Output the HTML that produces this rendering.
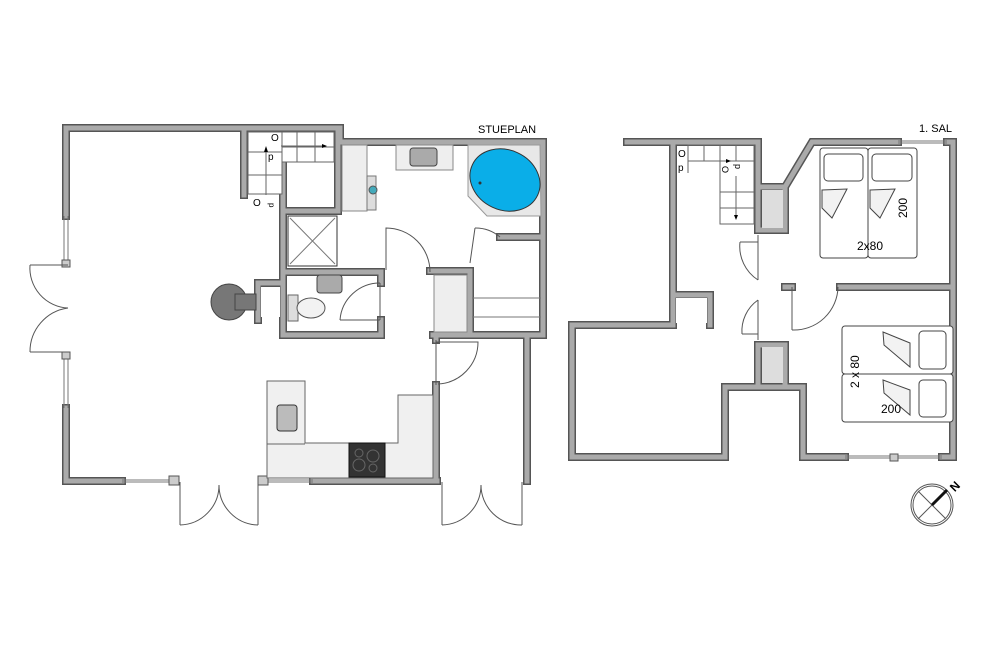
<!DOCTYPE html>
<html><head><meta charset="utf-8"><style>
html,body{margin:0;padding:0;background:#fff;}
svg{display:block;}
text{font-family:"Liberation Sans",sans-serif;}
</style></head><body>
<svg width="1000" height="667" viewBox="0 0 1000 667" xmlns="http://www.w3.org/2000/svg">
<defs>
<path id="w" d="M66,216 V128 H340 V142 H543 V335 H433
M66,408 V481 H122 M313,481 H437 M527,481 V335
M436,481 V385 M436,340 V335
M244,195 V128
M283,163 V335 H381 V320 M381,283 V272 H285 M283,211 H338 V128
M430,271 H470 V333 M500,237 H543
M258,320 V283 H283
M627,142 H758 V230 M758,187 H785 L812,142 H898 M947,142 H953 V457 H942
M845,457 H803 V387 H725 V457 H572 V325 H673 V142
M673,295 H710 V325
M840,287 H953 M785,287 H792 M785,187 V230 H758
M758,385 V345 H785 V385"/>
</defs>
<use href="#w" fill="none" stroke="#555" stroke-width="8" stroke-linecap="square"/>
<use href="#w" fill="none" stroke="#aaa" stroke-width="5" stroke-linecap="square"/>

<!-- windows -->
<g stroke="#777" stroke-width="1" fill="none">
<line x1="64" y1="216" x2="64" y2="265"/><line x1="68" y1="216" x2="68" y2="265"/>
<line x1="64" y1="355" x2="64" y2="408"/><line x1="68" y1="355" x2="68" y2="408"/>
<line x1="122" y1="480" x2="170" y2="480"/><line x1="122" y1="482" x2="170" y2="482"/>
<line x1="268" y1="480" x2="313" y2="480"/><line x1="268" y1="482" x2="313" y2="482"/>
<line x1="898" y1="141" x2="947" y2="141"/><line x1="898" y1="143" x2="947" y2="143"/>
<line x1="845" y1="456" x2="942" y2="456"/><line x1="845" y1="458" x2="942" y2="458"/>
</g>
<g fill="#ccc" stroke="#555" stroke-width="1">
<rect x="169" y="476" width="10" height="9"/><rect x="258" y="476" width="10" height="9"/>
<rect x="62" y="260" width="8" height="7"/><rect x="62" y="352" width="8" height="7"/>
<rect x="890" y="454" width="8" height="7"/>
</g>

<!-- doors -->
<g stroke="#555" stroke-width="1" fill="none">
<path d="M68,265 L30,265 M30,265 A40,40 0 0 0 68,308"/><path d="M68,352 L30,352 M30,352 A44,44 0 0 1 68,308"/>
<path d="M180,482 V525 M180,525 A40,40 0 0 0 219,485"/><path d="M258,482 V525 M258,525 A40,40 0 0 1 219,485"/>
<path d="M442,482 V525 M442,525 A40,40 0 0 0 481,485"/><path d="M522,482 V525 M522,525 A40,40 0 0 1 481,485"/>
<path d="M436,340 V385 M436,342 H478 A42,42 0 0 1 438,384"/>
<path d="M386,270 V228 A44,44 0 0 1 430,272"/>
<path d="M380,283 V320 M340,320 H380 M340,320 A40,40 0 0 1 380,283"/>
<path d="M470,263 L475,228 M475,228 A38,38 0 0 1 500,237"/>
<path d="M758,235 V280 M740,242 H758 M740,242 A40,40 0 0 0 758,280"/>
<path d="M758,300 V340 M742,334 H758 M742,334 A38,38 0 0 1 758,300"/>
<path d="M792,287 V330 M792,330 A44,44 0 0 0 838,287"/>
</g>

<!-- stairs ground -->
<g stroke="#666" stroke-width="1" fill="none">
<rect x="248" y="132" width="34" height="62" fill="#fff"/>
<line x1="248" y1="152" x2="282" y2="152"/><line x1="248" y1="175" x2="282" y2="175"/>
<rect x="282" y="132" width="52" height="30" fill="#fff"/>
<line x1="282" y1="147" x2="334" y2="147"/>
<line x1="297" y1="132" x2="297" y2="162"/><line x1="315" y1="132" x2="315" y2="162"/>
<line x1="266" y1="195" x2="266" y2="152"/><line x1="281" y1="146" x2="322" y2="146"/>
</g>
<path d="M264,152 L268,152 L266,146 Z M322,144 V148 L327,146 Z" fill="#000"/>
<text x="268" y="160" font-size="10">p</text><text x="271" y="141" font-size="10">O</text>
<text x="253" y="206" font-size="10">O</text><text x="271" y="205" font-size="8" transform="rotate(90 271 203)">p</text>

<!-- bath -->
<rect x="342" y="145" width="25" height="66" fill="#eee" stroke="#888"/>
<rect x="367" y="176" width="9" height="34" fill="#ddd" stroke="#777"/>
<circle cx="373" cy="190" r="4" fill="#4ab" stroke="#555"/>
<rect x="396" y="145" width="57" height="25" fill="#eee" stroke="#888"/>
<rect x="410" y="148" width="27" height="18" rx="3" fill="#aaa" stroke="#444"/>
<polygon points="468,145 540,145 541,216 487,216 468,196" fill="#e8e8e8" stroke="#999"/>
<ellipse cx="505" cy="180" rx="36" ry="30" transform="rotate(25 505 180)" fill="#0aaee8" stroke="#333"/>
<circle cx="480" cy="183" r="1.5" fill="#333"/>
<rect x="288" y="216" width="49" height="50" fill="#fff" stroke="#333"/>
<path d="M290,218 L335,264 M335,218 L290,264" stroke="#777"/>
<rect x="317" y="275" width="25" height="18" rx="3" fill="#aaa" stroke="#444"/>
<rect x="288" y="295" width="10" height="26" fill="#ddd" stroke="#666"/>
<ellipse cx="311" cy="308" rx="14" ry="10" fill="#f2f2f2" stroke="#555"/>

<!-- chimney -->
<circle cx="229" cy="302" r="18" fill="#777" stroke="#444"/>
<rect x="235" y="294" width="21" height="16" fill="#777" stroke="#444"/>
<rect x="261" y="287" width="19" height="30" fill="#fff"/>

<!-- right stairs area ground -->
<rect x="434" y="275" width="33" height="57" fill="#eee" stroke="#888"/>
<g stroke="#777"><line x1="472" y1="298" x2="541" y2="298"/><line x1="472" y1="317" x2="541" y2="317"/></g>

<!-- kitchen -->
<path d="M267,381 H305 V443 H398 V395 H433 V478 H267 Z" fill="#f0f0f0" stroke="#666"/>
<line x1="267" y1="444" x2="305" y2="444" stroke="#666"/>
<rect x="277" y="405" width="20" height="26" rx="3" fill="#bbb" stroke="#333"/>
<rect x="349" y="443" width="36" height="34" fill="#333" stroke="#111"/>
<g fill="none" stroke="#666"><circle cx="359" cy="453" r="4"/><circle cx="373" cy="456" r="6"/><circle cx="359" cy="465" r="6"/><circle cx="373" cy="468" r="4"/></g>

<!-- upper stairs -->
<g stroke="#666" stroke-width="1" fill="none">
<rect x="688" y="145" width="66" height="16"/>
<line x1="704" y1="145" x2="704" y2="161"/><line x1="720" y1="145" x2="720" y2="161"/><line x1="736" y1="145" x2="736" y2="161"/>
<rect x="720" y="161" width="34" height="63"/>
<line x1="720" y1="192" x2="754" y2="192"/><line x1="720" y1="208" x2="754" y2="208"/>
<line x1="688" y1="161" x2="726" y2="161"/><line x1="688" y1="161" x2="688" y2="173"/>
<line x1="736" y1="176" x2="736" y2="215"/>
</g>
<path d="M726,159 V163 L731,161 Z M734,215 H738 L736,220 Z" fill="#000"/>
<text x="678" y="157" font-size="10">O</text><text x="678" y="171" font-size="10">p</text>
<text x="732" y="176" font-size="9" transform="rotate(90 732 166)">O</text>
<text x="742" y="175" font-size="9" transform="rotate(90 744 166)">p</text>
<rect x="762" y="190" width="21" height="38" fill="#ddd"/>
<rect x="762" y="347" width="21" height="36" fill="#ddd"/>
<rect x="676" y="298" width="31" height="25" fill="#fff"/>

<!-- beds top -->
<g stroke="#444" fill="#fff">
<rect x="820" y="148" width="48" height="110" rx="3"/><rect x="868" y="148" width="49" height="110" rx="3"/>
<rect x="824" y="154" width="39" height="27" rx="4"/><rect x="872" y="154" width="40" height="27" rx="4"/>
<path d="M822,190 L847,189 L832,218 L822,208 Z M870,190 L895,189 L880,218 L870,208 Z" fill="#f2f2f2"/>
<rect x="842" y="326" width="111" height="48" rx="3"/><rect x="842" y="374" width="111" height="48" rx="3"/>
<rect x="919" y="331" width="27" height="38" rx="4"/><rect x="919" y="380" width="27" height="37" rx="4"/>
<path d="M883,332 L910,343 L910,367 L884,345 Z M883,380 L910,390 L910,415 L884,393 Z" fill="#f2f2f2"/>
</g>
<text x="857" y="250" font-size="12">2x80</text>
<text x="907" y="218" font-size="12" transform="rotate(-90 907 218)">200</text>
<text x="859" y="388" font-size="12" transform="rotate(-90 859 388)">2 x 80</text>
<text x="881" y="413" font-size="12">200</text>

<text x="478" y="133" font-size="11">STUEPLAN</text>
<text x="919" y="132" font-size="11">1. SAL</text>

<!-- compass -->
<g fill="none" stroke="#555">
<circle cx="932" cy="505" r="21"/><circle cx="932" cy="505" r="19"/>
<line x1="918" y1="491" x2="946" y2="519"/><line x1="946" y1="491" x2="918" y2="519"/>
</g>
<line x1="932" y1="505" x2="947" y2="490" stroke="#111" stroke-width="3"/>
<text x="950" y="491" font-size="12" font-weight="bold" transform="rotate(-45 954 486)">N</text>
</svg>
</body></html>
